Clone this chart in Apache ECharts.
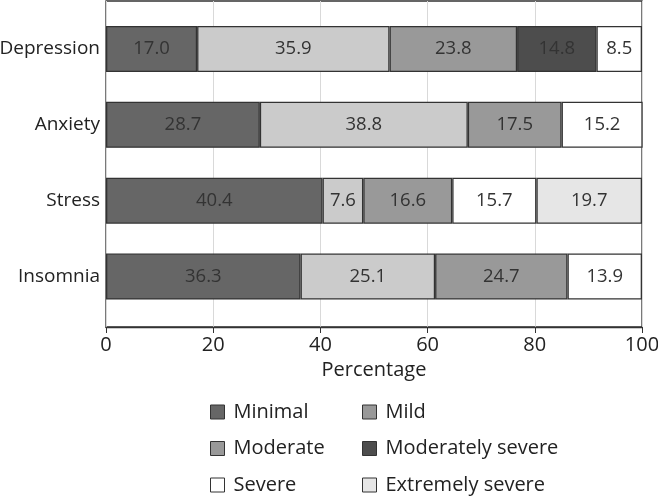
<!DOCTYPE html>
<html><head><meta charset="utf-8">
<script src="https://cdn.jsdelivr.net/npm/echarts@6/dist/echarts.min.js"></script>
<style>html,body{margin:0;padding:0;background:#fff}#c{width:658px;height:496px}</style>
</head><body><div id="c"></div>
<script>
const categories = ['Depression', 'Anxiety', 'Stress', 'Insomnia'];
const seriesNames = ['Minimal', 'Mild', 'Moderate', 'Moderately severe', 'Severe', 'Extremely severe'];
const minimal = [17.0, 28.7, 40.4, 36.3];
const mild = [35.9, 38.8, 7.6, 25.1];
const moderate = [23.8, 17.5, 16.6, 24.7];
const moderatelySevere = [14.8, null, null, null];
const severe = [8.5, 15.2, 15.7, 13.9];
const extremelySevere = [null, null, 19.7, null];
const xTicks = [0, 20, 40, 60, 80, 100];

const values = [minimal, mild, moderate, moderatelySevere, severe, extremelySevere];
const colors = ['#666666', '#cbcbcb', '#999999', '#4d4d4d', '#ffffff', '#e6e6e6'];
const legendColors = ['#666666', '#999999', '#999999', '#4d4d4d', '#ffffff', '#e6e6e6'];
const FONT = '"Open Sans", sans-serif';

const chart = echarts.init(document.getElementById('c'), null, {renderer: 'canvas'});
const series = seriesNames.map((n, i) => ({
  name: n, type: 'bar', stack: 'all', xAxisIndex: 1, yAxisIndex: 1,
  data: values[i], barWidth: 46,
  itemStyle: {color: colors[i], borderColor: '#333', borderWidth: 1.3},
  label: {show: true, position: 'inside', color: '#333', fontSize: 18.5, fontFamily: FONT,
    formatter: p => p.value == null ? '' : Number(p.value).toFixed(1)},
  emphasis: {disabled: true}
}));
const legendItem = i => ({name: seriesNames[i], itemStyle: {color: legendColors[i], borderColor: '#333', borderWidth: 1}});
const legendCommon = {orient: 'vertical', itemWidth: 14, itemHeight: 14, itemGap: 16.5, padding: 0,
  textStyle: {fontSize: 20, fontFamily: FONT, color: '#222', lineHeight: 20, padding: [0, 0, 0, 4]},
  icon: 'rect', selectedMode: false};

chart.setOption({
  animation: false,
  grid: [
    {left: 106, right: 16, top: 1, bottom: 169, show: true, borderColor: '#333', borderWidth: 1.3,
      containLabel: false, outerBoundsMode: 'none'},
    {left: 106, right: 16, top: 11, height: 303.5, containLabel: false, outerBoundsMode: 'none'}
  ],
  xAxis: [
    {gridIndex: 0, type: 'value', min: 0, max: 100, interval: 20,
      axisLine: {show: true, lineStyle: {color: '#333', width: 1.3}},
      axisTick: {show: true, length: 6, lineStyle: {color: '#333'}},
      axisLabel: {color: '#222', fontSize: 20, fontFamily: FONT, margin: 8,
        formatter: v => xTicks.includes(v) ? String(v) : ''},
      splitLine: {show: true, lineStyle: {color: '#d9d9d9', width: 1}},
      name: 'Percentage', nameLocation: 'middle', nameGap: 33,
      nameTextStyle: {color: '#222', fontSize: 20, fontFamily: FONT}},
    {gridIndex: 1, type: 'value', min: 0, max: 100, show: false}
  ],
  yAxis: [
    {gridIndex: 0, type: 'value', min: 0, max: 1, show: false},
    {gridIndex: 1, type: 'category', data: categories, inverse: true,
      axisLine: {show: false}, axisTick: {show: false},
      axisLabel: {color: '#222', fontSize: 19, fontFamily: FONT, margin: 6}}
  ],
  legend: [
    Object.assign({left: 210, top: 402, data: [0, 2, 4].map(legendItem)}, legendCommon),
    Object.assign({left: 362, top: 402, data: [1, 3, 5].map(legendItem)}, legendCommon)
  ],
  series: series
});
</script></body></html>
